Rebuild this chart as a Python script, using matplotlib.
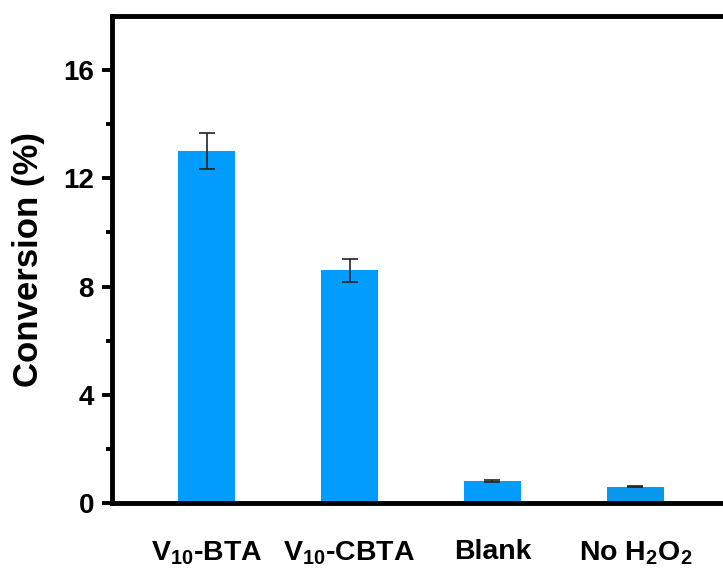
import matplotlib
matplotlib.use("Agg")
import matplotlib.pyplot as plt
import numpy as np

plt.rcParams['font.family'] = ['Liberation Sans', 'DejaVu Sans']
plt.rcParams['font.weight'] = 'bold'
plt.rcParams['mathtext.fontset'] = 'custom'
plt.rcParams['mathtext.rm'] = 'Liberation Sans:bold'
plt.rcParams['mathtext.bf'] = 'Liberation Sans:bold'
plt.rcParams['mathtext.it'] = 'Liberation Sans:bold'
plt.rcParams['mathtext.default'] = 'bf'

categories = ["V$_{10}$-BTA", "V$_{10}$-CBTA", "Blank", "No H$_2$O$_2$"]
conversion = [13.0, 8.6, 0.8, 0.6]
errors = [0.67, 0.43, 0.04, 0.02]
bar_colors = ['#009DFF', '#009DFF', '#009DFF', '#0598EC']

W, H = 723, 573
fig = plt.figure(figsize=(W / 100, H / 100), dpi=100)
left, right = 112, 730
bottom, top = 503, 16
ax = fig.add_axes([left / W, 1 - bottom / H, (right - left) / W, (bottom - top) / H])

x = np.arange(1, len(categories) + 1)
ax.bar(x, conversion, width=0.4, color=bar_colors, zorder=2)
ax.errorbar(x, conversion, yerr=errors, fmt='none', ecolor='#222222',
            elinewidth=1.2, capsize=5.5, capthick=1.2, zorder=3)

ax.set_xlim(0.338, 4.662)
ax.set_ylim(0, 18)
ax.set_yticks([0, 4, 8, 12, 16])
ax.set_yticks([2, 6, 10, 14], minor=True)
ax.set_xticks(x)
ax.set_xticklabels(categories, fontsize=20.5, fontweight='bold')
ax.tick_params(axis='x', length=0, pad=26)
ax.tick_params(axis='y', which='major', length=7, width=2.8, labelsize=20, pad=6)
ax.tick_params(axis='y', which='minor', length=4, width=2.8)
for lbl in ax.get_yticklabels():
    lbl.set_fontweight('bold')

for side in ['left', 'bottom', 'top', 'right']:
    ax.spines[side].set_linewidth(3.5)

ax.set_ylabel('Conversion (%)', fontsize=25, fontweight='bold', labelpad=13)

fig.savefig('out.png', dpi=100)
